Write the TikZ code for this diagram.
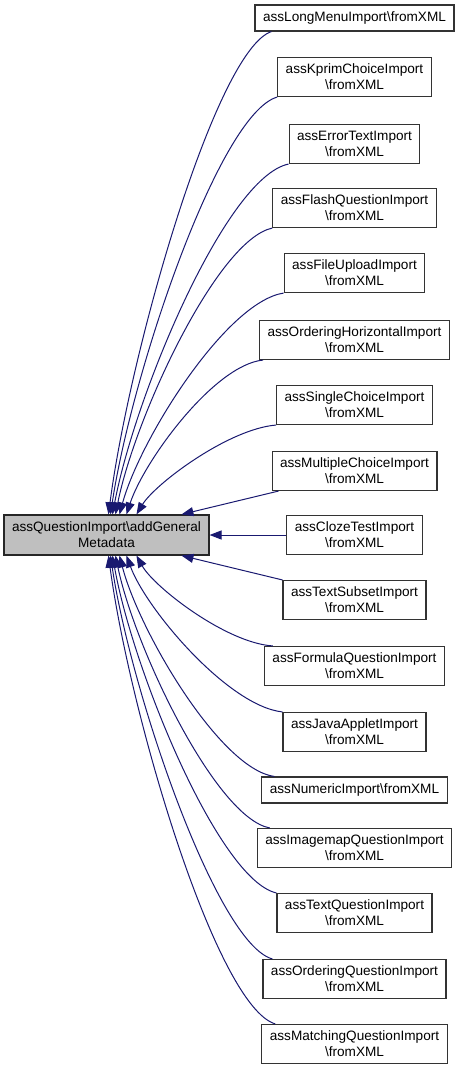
\documentclass[tikz,border=0pt]{standalone}
\usepackage{fontspec}
\setmainfont{Liberation Sans}
\usetikzlibrary{arrows.meta}

\begin{document}
\begin{tikzpicture}[x=1pt,y=-1pt,
  box/.style={draw=black!80,line width=1.1pt,fill=white,align=center,
    font=\fontsize{13.6}{16}\selectfont,inner xsep=8pt,inner ysep=0pt,minimum height=39pt},
  onebox/.style={box,minimum height=26pt},
  mainbox/.style={box,fill=black!25,draw=black!85,minimum width=203pt,minimum height=40pt},
  edge/.style={draw={rgb,255:red,25;green,25;blue,112},line width=1pt,
    -{Triangle[length=12pt,width=9pt]}}]
\useasboundingbox (0,0) rectangle (459,1070);

\node[mainbox] (main) at (106.5,535) {assQuestionImport\textbackslash addGeneral\\Metadata};

\node[onebox] (longmenu) at (354.5,18) {assLongMenuImport\textbackslash fromXML};
\node[box] (kprim) at (354.5,77) {assKprimChoiceImport\\\textbackslash fromXML};
\node[box] (errortext) at (354.5,144) {assErrorTextImport\\\textbackslash fromXML};
\node[box] (flash) at (354.5,208) {assFlashQuestionImport\\\textbackslash fromXML};
\node[box] (fileupload) at (354.5,273) {assFileUploadImport\\\textbackslash fromXML};
\node[box] (orderhoriz) at (354.5,340) {assOrderingHorizontalImport\\\textbackslash fromXML};
\node[box] (single) at (354.5,405) {assSingleChoiceImport\\\textbackslash fromXML};
\node[box] (multiple) at (354.5,471) {assMultipleChoiceImport\\\textbackslash fromXML};
\node[box] (cloze) at (354.5,535) {assClozeTestImport\\\textbackslash fromXML};
\node[box] (textsubset) at (354.5,600) {assTextSubsetImport\\\textbackslash fromXML};
\node[box] (formula) at (354.5,666) {assFormulaQuestionImport\\\textbackslash fromXML};
\node[box] (javaapplet) at (354.5,732) {assJavaAppletImport\\\textbackslash fromXML};
\node[onebox] (numeric) at (354.5,790) {assNumericImport\textbackslash fromXML};
\node[box] (imagemap) at (354.5,848) {assImagemapQuestionImport\\\textbackslash fromXML};
\node[box] (textquestion) at (354.5,913) {assTextQuestionImport\\\textbackslash fromXML};
\node[box] (orderquestion) at (354.5,979) {assOrderingQuestionImport\\\textbackslash fromXML};
\node[box] (matching) at (354.5,1044) {assMatchingQuestionImport\\\textbackslash fromXML};

\draw[edge] ([xshift=17pt]longmenu.south west) .. controls (216,50) and (130,350) .. ([xshift=105pt]main.north west);
\draw[edge] (kprim.south west) .. controls (219,114) and (132,372) .. ([xshift=107pt]main.north west);
\draw[edge] (errortext.south west) .. controls (226,177) and (135,395) .. ([xshift=109pt]main.north west);
\draw[edge] (flash.south west) .. controls (217,240) and (135,417) .. ([xshift=112pt]main.north west);
\draw[edge] (fileupload.south west) .. controls (226,302) and (140,439) .. ([xshift=116pt]main.north west);
\draw[edge] ([xshift=4pt]orderhoriz.south west) .. controls (214,365) and (144,461) .. ([xshift=123pt]main.north west);
\draw[edge] (single.south west) .. controls (228,429) and (155,484) .. ([xshift=133pt]main.north west);
\draw[edge] ([xshift=7pt]multiple.south west) -- ([xshift=178pt]main.north west);
\draw[edge] (cloze) -- (main);
\draw[edge] (textsubset.north west) -- ([xshift=178pt]main.south west);
\draw[edge] ([xshift=9pt]formula.north west) .. controls (226,643) and (154,587) .. ([xshift=133pt]main.south west);
\draw[edge] (javaapplet.north west) .. controls (228,706) and (146,609) .. ([xshift=123pt]main.south west);
\draw[edge] ([xshift=13pt]numeric.north west) .. controls (220,769) and (139,631) .. ([xshift=116pt]main.south west);
\draw[edge] ([xshift=13pt]imagemap.north west) .. controls (216,818) and (135,649) .. ([xshift=112pt]main.south west);
\draw[edge] (textquestion.north west) .. controls (219,880) and (133,671) .. ([xshift=109pt]main.south west);
\draw[edge] ([xshift=10pt]orderquestion.north west) .. controls (217,944) and (131,693) .. ([xshift=107pt]main.south west);
\draw[edge] ([xshift=14pt]matching.north west) .. controls (216,1006) and (130,715) .. ([xshift=105pt]main.south west);

\end{tikzpicture}
\end{document}
